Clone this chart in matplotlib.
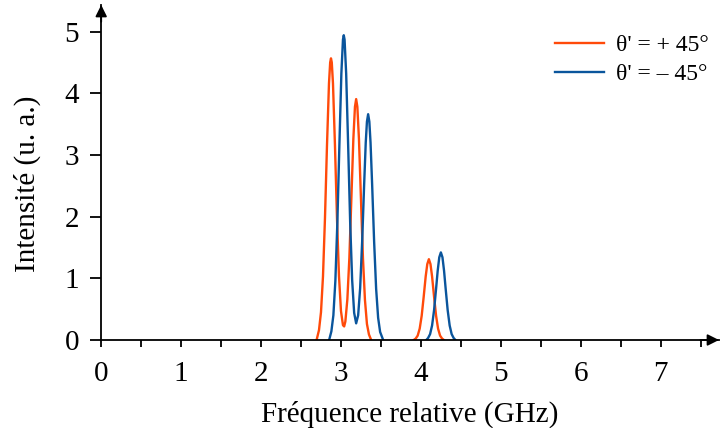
import numpy as np
import matplotlib
matplotlib.use("Agg")
import matplotlib.pyplot as plt

plt.rcParams['font.family'] = ['Liberation Serif', 'DejaVu Serif']

nan = np.nan

# theta' = +45 deg (nan splits the two lobes)
freq_plus = [2.695, 2.725, 2.75, 2.775, 2.80, 2.825, 2.85, 2.865, 2.875, 2.885,
             2.90, 2.925, 2.95, 2.975, 3.00, 3.025, 3.04, 3.055, 3.08, 3.105,
             3.13, 3.155, 3.175, 3.19, 3.205, 3.225, 3.25, 3.275, 3.30, 3.325,
             3.35, 3.378,
             nan,
             3.91, 3.935, 3.96, 3.985, 4.01, 4.035, 4.06, 4.08, 4.10, 4.12,
             4.14, 4.165, 4.19, 4.215, 4.24, 4.265, 4.288]
int_plus = [0.0, 0.16, 0.45, 1.03, 1.98, 3.15, 4.16, 4.50, 4.565, 4.50,
            4.16, 3.15, 1.98, 1.04, 0.47, 0.24, 0.22, 0.30, 0.66, 1.33,
            2.29, 3.26, 3.78, 3.905, 3.78, 3.26, 2.29, 1.33, 0.65, 0.26,
            0.09, 0.0,
            nan,
            0.0, 0.023, 0.071, 0.184, 0.393, 0.70, 1.03, 1.23, 1.31, 1.23,
            1.03, 0.70, 0.393, 0.184, 0.071, 0.023, 0.0]

# theta' = -45 deg
freq_minus = [2.852, 2.88, 2.905, 2.93, 2.955, 2.98, 3.005, 3.025, 3.035, 3.045,
              3.065, 3.09, 3.115, 3.14, 3.165, 3.19, 3.215, 3.24, 3.265, 3.29,
              3.31, 3.325, 3.34, 3.355, 3.37, 3.39, 3.415, 3.44, 3.465, 3.49,
              3.528,
              nan,
              4.068, 4.09, 4.115, 4.14, 4.165, 4.19, 4.21, 4.23, 4.25, 4.27,
              4.29, 4.31, 4.335, 4.36, 4.385, 4.41, 4.432]
int_minus = [0.0, 0.14, 0.40, 0.96, 1.91, 3.15, 4.32, 4.87, 4.94, 4.87,
             4.32, 3.15, 1.91, 0.97, 0.44, 0.27, 0.40, 0.84, 1.59, 2.52,
             3.20, 3.54, 3.66, 3.54, 3.20, 2.52, 1.59, 0.83, 0.36, 0.13,
             0.0,
             nan,
             0.0, 0.032, 0.095, 0.235, 0.485, 0.83, 1.12, 1.34, 1.42, 1.34,
             1.12, 0.83, 0.485, 0.235, 0.095, 0.032, 0.0]

labels = ["θ' = + 45°", "θ' = – 45°"]
colors = ['#ff4a0a', '#0a559c']

fig = plt.figure(figsize=(7.2, 4.28), dpi=100)
ax = fig.add_axes([101.2 / 720, 88 / 428, (719 - 101.2) / 720, (340 - 5) / 428])

ax.plot(freq_plus, int_plus, color=colors[0], lw=1.7, label=labels[0])
ax.plot(freq_minus, int_minus, color=colors[1], lw=1.7, label=labels[1])

ax.set_xlim(0, 7.73)
ax.set_ylim(0, 5.43)

for s in ['top', 'right']:
    ax.spines[s].set_visible(False)
for s in ['left', 'bottom']:
    ax.spines[s].set_linewidth(1.3)

# arrow heads on the axes
ax.annotate('', xy=(1.0, 0), xytext=(0.97, 0), xycoords='axes fraction',
            arrowprops=dict(arrowstyle='-|>', color='k', lw=1.3, mutation_scale=17,
                            shrinkA=0, shrinkB=0), annotation_clip=False)
ax.annotate('', xy=(0, 1.0), xytext=(0, 0.95), xycoords='axes fraction',
            arrowprops=dict(arrowstyle='-|>', color='k', lw=1.3, mutation_scale=17,
                            shrinkA=0, shrinkB=0), annotation_clip=False)

ax.set_xticks(range(0, 8))
ax.set_xticks(np.arange(0.5, 7.6, 1.0), minor=True)
ax.set_yticks(range(0, 6))
ax.tick_params(axis='x', which='both', direction='out', length=5.3, width=1.3,
               labelsize=21, pad=10)
ax.tick_params(axis='y', which='major', direction='out', length=8, width=1.3,
               labelsize=21, pad=8)

ax.set_xlabel('Fréquence relative (GHz)', fontsize=21, labelpad=10)
ax.set_ylabel('Intensité (u. a.)', fontsize=21)
ax.yaxis.set_label_coords(-0.097, 0.465)

ax.legend(loc='upper right', bbox_to_anchor=(0.998, 0.94), frameon=False,
          fontsize=17, handlelength=2.05, handletextpad=0.5, labelspacing=0.32,
          borderaxespad=0.0)

fig.savefig('out.png', dpi=100)
